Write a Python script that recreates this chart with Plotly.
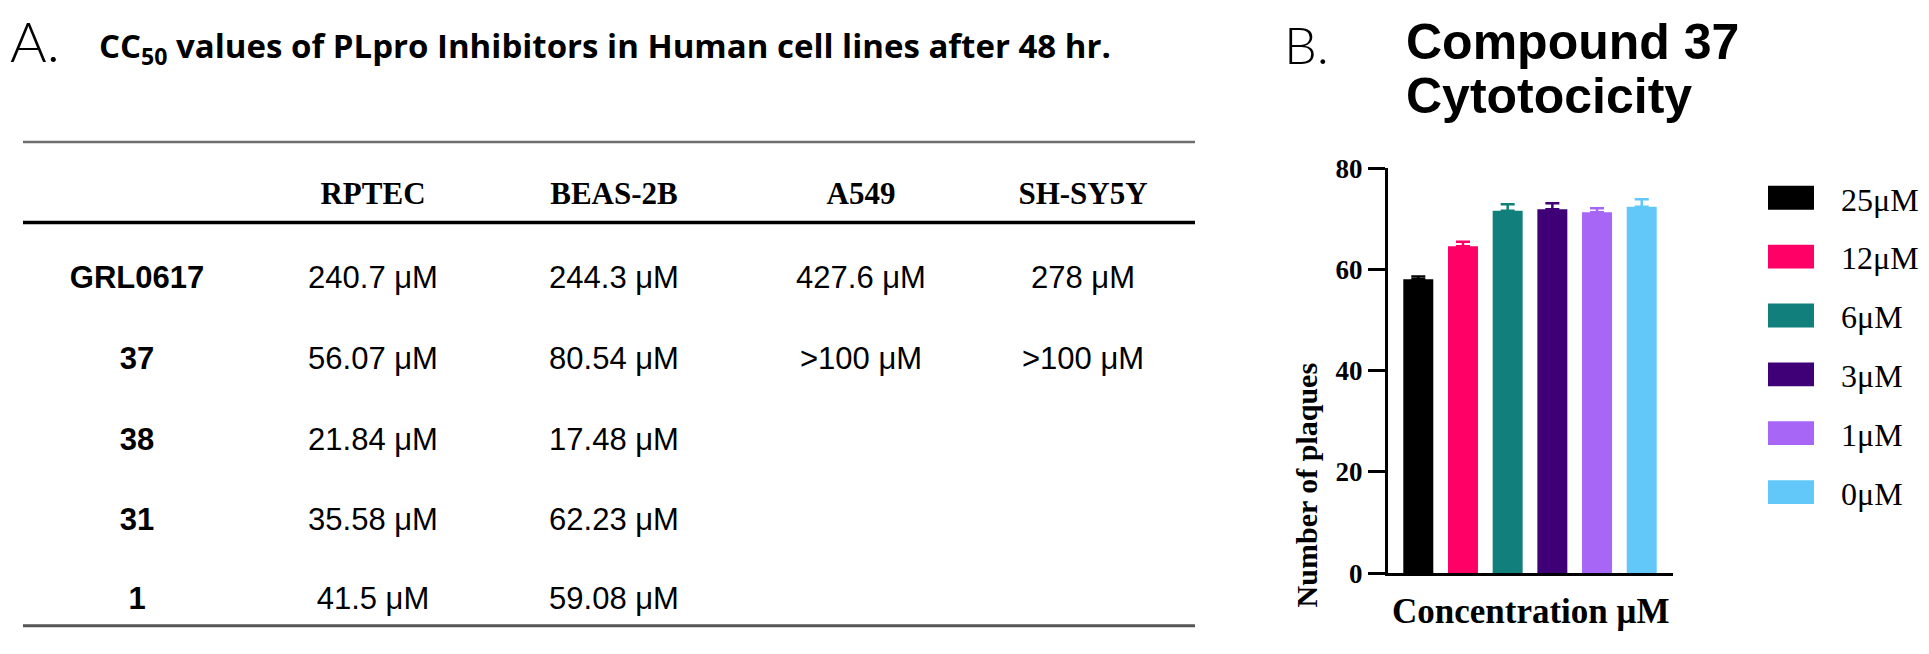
import plotly.graph_objects as go

# ---------------- data ----------------
cell_lines = ["RPTEC", "BEAS-2B", "A549", "SH-SY5Y"]
compounds = ["GRL0617", "37", "38", "31", "1"]
rptec = ["240.7 μM", "56.07 μM", "21.84 μM", "35.58 μM", "41.5 μM"]
beas2b = ["244.3 μM", "80.54 μM", "17.48 μM", "62.23 μM", "59.08 μM"]
a549 = ["427.6 μM", ">100 μM", "", "", ""]
shsy5y = ["278 μM", ">100 μM", "", "", ""]

concentrations = ["25μM", "12μM", "6μM", "3μM", "1μM", "0μM"]
plaques = [58.1, 64.6, 71.6, 71.9, 71.3, 72.4]
sem = [0.5, 0.9, 1.3, 1.2, 0.8, 1.5]
bar_colors = ["#000000", "#FF0066", "#117F7B", "#3F0077", "#A766F6", "#62C8F9"]

# ---------------- layout constants (pixels) ----------------
W, H = 1929, 654
col_x = [137, 373, 614, 861, 1083]
header_y = 190
row_y = [278, 363, 448, 532, 614]

def px(x):
    return x / W

def py(y):
    return 1 - y / H

SERIF = "Liberation Serif, Times New Roman, serif"
SANS = "Liberation Sans, Arial, sans-serif"

fig = go.Figure()

# ---------------- bar chart (panel B) ----------------
for i, c in enumerate(concentrations):
    fig.add_trace(go.Bar(
        x=[c], y=[plaques[i]], name=c, width=0.671,
        marker=dict(color=bar_colors[i], line=dict(width=0)),
        error_y=dict(type="data", symmetric=False, array=[sem[i]], arrayminus=[0],
                     color=bar_colors[i], thickness=2.5, width=7),
        showlegend=False, hoverinfo="skip"))

# ---------------- table (panel A) ----------------
fig.add_trace(go.Scatter(
    x=col_x[1:], y=[header_y] * len(cell_lines), text=cell_lines, mode="text",
    textfont=dict(family=SERIF, size=31, color="black", weight="bold"),
    xaxis="x2", yaxis="y2", hoverinfo="skip", showlegend=False))
fig.add_trace(go.Scatter(
    x=[col_x[0]] * len(compounds), y=row_y, text=compounds, mode="text",
    textfont=dict(family=SANS, size=31, color="black", weight="bold"),
    xaxis="x2", yaxis="y2", hoverinfo="skip", showlegend=False))
for ci, col in enumerate([rptec, beas2b, a549, shsy5y]):
    ys = [row_y[r] for r, t in enumerate(col) if t]
    ts = [t for t in col if t]
    fig.add_trace(go.Scatter(
        x=[col_x[ci + 1]] * len(ts), y=ys, text=ts, mode="text",
        textfont=dict(family=SANS, size=31, color="black"),
        xaxis="x2", yaxis="y2", hoverinfo="skip", showlegend=False))

shapes = []
# table rules
shapes.append(dict(type="line", xref="paper", yref="paper", x0=px(23), x1=px(1195),
                   y0=py(133), y1=py(133), line=dict(color="#6e6e6e", width=2.5)))
shapes.append(dict(type="line", xref="paper", yref="paper", x0=px(23), x1=px(1195),
                   y0=py(217.5), y1=py(217.5), line=dict(color="black", width=3.5)))
shapes.append(dict(type="line", xref="paper", yref="paper", x0=px(23), x1=px(1195),
                   y0=py(640), y1=py(640), line=dict(color="#555555", width=3)))

annotations = []
# legend (custom swatches)
leg_y0, leg_dy = 191.5, 61.7
for i, c in enumerate(concentrations):
    yc = leg_y0 + i * leg_dy
    shapes.append(dict(type="rect", xref="paper", yref="paper",
                       x0=px(1768), x1=px(1814), y0=py(yc + 12.5), y1=py(yc - 12.5),
                       fillcolor=bar_colors[i], line=dict(width=0)))
    annotations.append(dict(x=px(1839), y=py(yc + 2), xref="paper", yref="paper",
                            text=c, showarrow=False, xanchor="left", yanchor="middle",
                            font=dict(family=SERIF, size=32, color="black")))

# titles
annotations += [
    dict(x=px(8), y=py(27), xref="paper", yref="paper", text="A.", showarrow=False,
         xanchor="left", yanchor="middle",
         font=dict(family="Lato, DejaVu Sans", size=56, color="black", weight=300)),
    dict(x=px(97), y=py(34), xref="paper", yref="paper",
         text="CC<sub>50</sub> values of PLpro Inhibitors in Human cell lines after 48 hr.",
         showarrow=False, xanchor="left", yanchor="middle",
         font=dict(family="Open Sans", size=33, color="black", weight="bold")),
    dict(x=px(1282), y=py(30), xref="paper", yref="paper", text="B.", showarrow=False,
         xanchor="left", yanchor="middle",
         font=dict(family="Lato, DejaVu Sans", size=52, color="black", weight=300)),
    dict(x=px(1404), y=py(28), xref="paper", yref="paper", text="Compound 37", showarrow=False,
         xanchor="left", yanchor="middle",
         font=dict(family=SANS, size=50, color="black", weight="bold")),
    dict(x=px(1404), y=py(85), xref="paper", yref="paper", text="Cytotocicity", showarrow=False,
         xanchor="left", yanchor="middle",
         font=dict(family=SANS, size=50, color="black", weight="bold")),
    dict(x=px(1530), y=py(625), xref="paper", yref="paper", text="Concentration μM",
         showarrow=False, xanchor="center", yanchor="middle",
         font=dict(family=SERIF, size=35, color="black", weight="bold")),
    dict(x=px(1306), y=py(493), xref="paper", yref="paper", text="Number of plaques",
         showarrow=False, xanchor="center", yanchor="middle", textangle=-90,
         font=dict(family=SERIF, size=30, color="black", weight="bold")),
]

fig.update_layout(
    width=W, height=H, autosize=False,
    margin=dict(l=0, r=0, t=0, b=0, pad=0),
    paper_bgcolor="white", plot_bgcolor="rgba(0,0,0,0)",
    barmode="overlay",
    showlegend=False,
    xaxis=dict(domain=[px(1388), px(1673)], type="category",
               categoryorder="array", categoryarray=concentrations,
               range=[-0.678, 5.70], showticklabels=False, ticks="",
               showline=True, linewidth=3, linecolor="black",
               showgrid=False, zeroline=False, fixedrange=True, anchor="y"),
    yaxis=dict(domain=[py(585), py(160.7)], range=[0, 80],
               tickvals=[0, 20, 40, 60, 80], ticks="outside", ticklen=17, tickwidth=3,
               tickcolor="black", showline=True, linewidth=3, linecolor="black",
               tickfont=dict(family=SERIF, size=27, color="black", weight="bold"),
               showgrid=False, zeroline=False, fixedrange=True, anchor="x"),
    xaxis2=dict(domain=[0, 1], range=[0, W], visible=False, fixedrange=True, anchor="y2"),
    yaxis2=dict(domain=[0, 1], range=[H, 0], visible=False, fixedrange=True, anchor="x2"),
    shapes=shapes,
    annotations=annotations,
)

fig.write_html(
    "out.html",
    config={"displayModeBar": False},
    post_script="document.body.style.margin='0';document.body.style.overflow='hidden';",
)
